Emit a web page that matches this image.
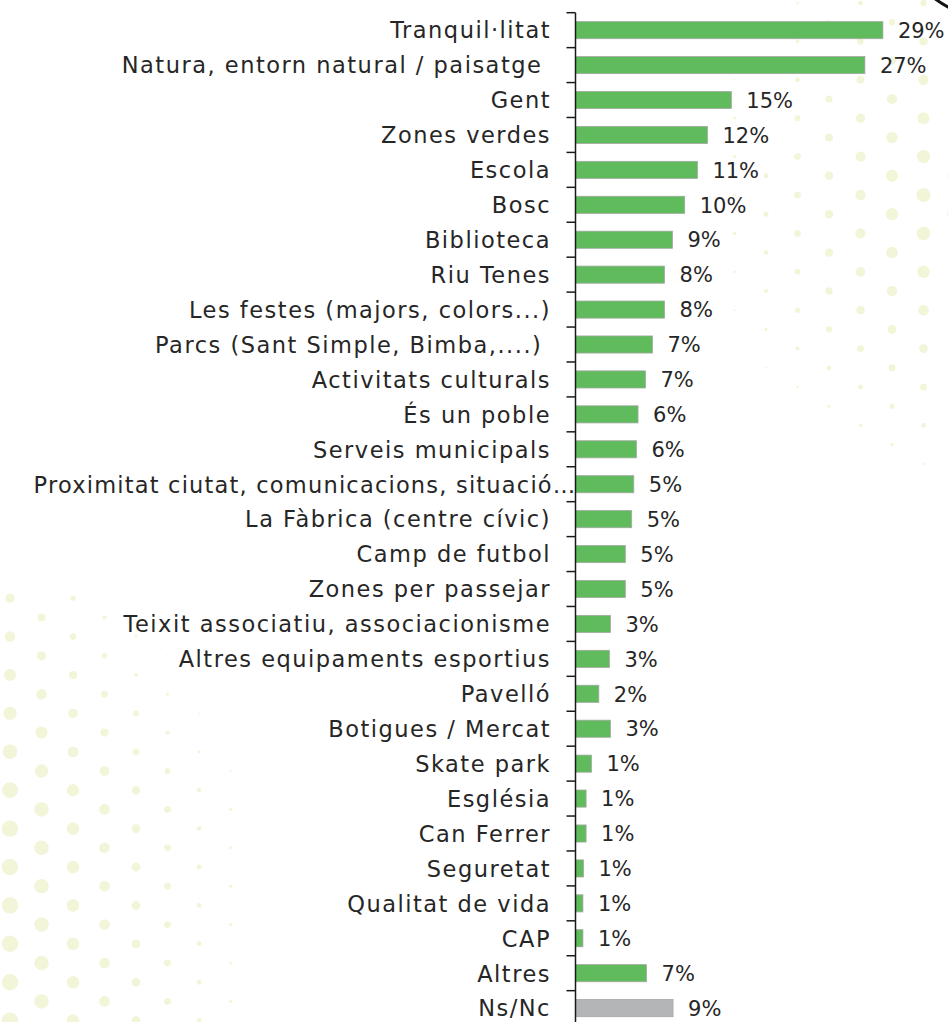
<!DOCTYPE html>
<html>
<head>
<meta charset="utf-8">
<script src="https://d3js.org/d3.v7.min.js"></script>
<style>
  body { margin: 0; background: #ffffff; }
  svg { display: block; }
</style>
</head>
<body>
<svg id="drawing_region"></svg>
<script>
const categories = [
  "Tranquil·litat",
  "Natura, entorn natural / paisatge ",
  "Gent",
  "Zones verdes",
  "Escola",
  "Bosc",
  "Biblioteca",
  "Riu Tenes",
  "Les festes (majors, colors...)",
  "Parcs (Sant Simple, Bimba,....) ",
  "Activitats culturals",
  "És un poble",
  "Serveis municipals",
  "Proximitat ciutat, comunicacions, situació…",
  "La Fàbrica (centre cívic)",
  "Camp de futbol",
  "Zones per passejar",
  "Teixit associatiu, associacionisme",
  "Altres equipaments esportius",
  "Pavelló",
  "Botigues / Mercat",
  "Skate park",
  "Església",
  "Can Ferrer",
  "Seguretat",
  "Qualitat de vida",
  "CAP",
  "Altres",
  "Ns/Nc",
];
// percentages
const values = [
  29.0, 27.3, 14.7, 12.45, 11.5, 10.3, 9.15, 8.4, 8.4, 7.26, 6.6, 5.9, 5.75,
  5.5, 5.3, 4.7, 4.7, 3.3, 3.2, 2.2, 3.3, 1.5, 1.0, 1.0, 0.75, 0.7, 0.7, 6.7,
  9.2,
];
// labels as printed in the chart
const valueLabels = [
  "29%", "27%", "15%", "12%", "11%", "10%", "9%", "8%", "8%", "7%", "7%",
  "6%", "6%", "5%", "5%", "5%", "5%", "3%", "3%", "2%", "3%", "1%", "1%",
  "1%", "1%", "1%", "1%", "7%", "9%",
];
const grayCategories = ["Ns/Nc"];

const data = categories.map((c, i) => ({
  cat: c,
  value: values[i],
  label: valueLabels[i],
}));

class BarChart {
  constructor(config, data) {
    this.config = config;
    this.data = data;
    this.init();
  }

  init() {
    let self = this;

    self.svg = d3
      .select(self.config.parent)
      .attr("width", self.config.width)
      .attr("height", self.config.height);

    self.xscale = d3
      .scaleLinear()
      .domain([0, 35])
      .range([self.config.axisX, self.config.axisX + 371]);

    self.yscale = d3
      .scaleBand()
      .domain(self.data.map((d) => d.cat))
      .range([12.7, 1025.6])
      .paddingInner(0.51)
      .paddingOuter(0.255);
  }

  decorate() {
    let self = this;
    // halftone dots in the background (decoration only)
    const dots = [];
    const dx = 63,
      dy = 19.2;
    for (let row = 0; row * dy < self.config.height + dy; row++) {
      const y = row * dy + 3;
      const off = row % 2 ? 0 : dx / 2;
      for (let x = off + 10; x < self.config.width + dx; x += dx) {
        let r1 = 8.5 - x / 33 - Math.max(0, 800 - y) / 55;
        if (y < 585) r1 = 0;
        const r2 = 9.2 - Math.hypot(x - 1000, y - 200) / 35;
        const r = Math.max(r1, r2);
        if (r > 0.5) dots.push({ x: x, y: y, r: r });
      }
    }
    self.svg
      .append("g")
      .selectAll("circle")
      .data(dots)
      .join("circle")
      .attr("cx", (d) => d.x)
      .attr("cy", (d) => d.y)
      .attr("r", (d) => d.r)
      .attr("fill", "#f2f5d8");

    self.svg
      .append("circle")
      .attr("cx", 1000)
      .attr("cy", -90)
      .attr("r", 110)
      .attr("fill", "none")
      .attr("stroke", "#111")
      .attr("stroke-width", 3);
  }

  render() {
    let self = this;
    const font = "'DejaVu Sans', sans-serif";
    const spacing = 1.5;

    self.decorate();

    self.svg
      .append("g")
      .selectAll("rect")
      .data(self.data)
      .join("rect")
      .attr("x", self.xscale(0))
      .attr("y", (d) => self.yscale(d.cat))
      .attr("width", (d) => self.xscale(d.value) - self.xscale(0))
      .attr("height", self.yscale.bandwidth())
      .attr("fill", (d) =>
        grayCategories.includes(d.cat) ? "#b3b5b6" : "#5fbb5c"
      )
      .attr("stroke", "#a3a8a3")
      .attr("stroke-width", 0.8);

    self.svg
      .append("g")
      .selectAll("text")
      .data(self.data)
      .join("text")
      .attr("x", (d) => self.xscale(d.value) + 15)
      .attr("y", (d) => self.yscale(d.cat) + self.yscale.bandwidth() / 2)
      .attr("dy", "0.37em")
      .attr("font-family", font)
      .attr("font-size", "21px")
      .attr("fill", "#262626")
      .text((d) => d.label);

    // category axis: ticks sit on the band edges
    const step = self.yscale.step();
    const edges = self.data.map(
      (d) => self.yscale(d.cat) - (step - self.yscale.bandwidth()) / 2
    );
    edges.push(edges[edges.length - 1] + step);

    const axis = self.svg.append("g");
    axis
      .append("line")
      .attr("x1", self.config.axisX)
      .attr("x2", self.config.axisX)
      .attr("y1", edges[0])
      .attr("y2", self.config.height)
      .attr("stroke", "#1a1a1a")
      .attr("stroke-width", 1.5);
    axis
      .selectAll(".tick")
      .data(edges)
      .join("line")
      .attr("class", "tick")
      .attr("x1", self.config.axisX - 9)
      .attr("x2", self.config.axisX)
      .attr("y1", (d) => d)
      .attr("y2", (d) => d)
      .attr("stroke", "#1a1a1a")
      .attr("stroke-width", 1.5);

    // truncated labels run up to the axis line, like in the original
    axis
      .selectAll("text")
      .data(self.data)
      .join("text")
      .attr("x", (d) =>
        d.cat.endsWith("…")
          ? self.config.axisX + 1
          : self.config.axisX - 26 + spacing
      )
      .attr("y", (d) => self.yscale(d.cat) + self.yscale.bandwidth() / 2)
      .attr("dy", "0.37em")
      .attr("text-anchor", "end")
      .attr("font-family", font)
      .attr("font-size", "22.5px")
      .attr("letter-spacing", (d) => (d.cat.endsWith("…") ? 1.2 : spacing))
      .attr("fill", "#262626")
      .attr("xml:space", "preserve")
      .style("white-space", "pre")
      .text((d) => d.cat);
  }
}

var config = {
  parent: "#drawing_region",
  width: 948,
  height: 1022,
  axisX: 575.5,
};

const barChart = new BarChart(config, data);
barChart.render();
</script>
</body>
</html>
